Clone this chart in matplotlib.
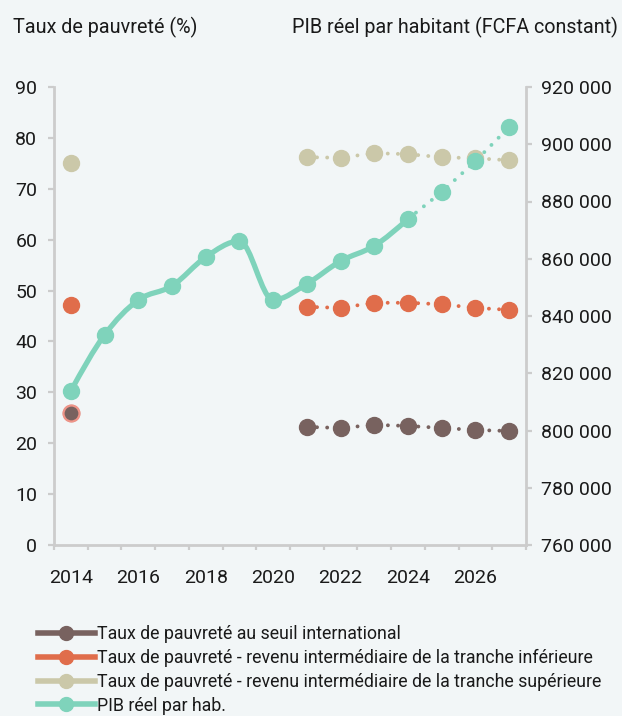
import numpy as np
import matplotlib.pyplot as plt
from matplotlib.path import Path
from matplotlib.patches import PathPatch
from matplotlib.lines import Line2D
from matplotlib.ticker import FuncFormatter, MultipleLocator, FixedLocator

plt.rcParams['font.family'] = ['Roboto', 'DejaVu Sans']

# data
years = list(range(2014, 2028))
nan = np.nan
seuil_intl = [25.9, nan, nan, nan, nan, nan, nan, 23.2, 23.0, 23.6, 23.4, 23.0, 22.6, 22.4]
tranche_inf = [47.2, nan, nan, nan, nan, nan, nan, 46.8, 46.6, 47.6, 47.6, 47.3, 46.6, 46.2]
tranche_sup = [75.0, nan, nan, nan, nan, nan, nan, 76.2, 76.1, 77.0, 76.8, 76.2, 76.0, 75.6]
pib = [813800, 833400, 845600, 850500, 860600, 866200, 845600,
       851200, 859200, 864500, 873900, 883300, 894100, 906000]
last_obs = 2024  # solid line up to here, projection afterwards

labels = ['Taux de pauvreté au seuil international',
          'Taux de pauvreté - revenu intermédiaire de la tranche inférieure',
          'Taux de pauvreté - revenu intermédiaire de la tranche supérieure',
          'PIB réel par hab.']

c_brown = '#78625f'
c_orange = '#e06d4b'
c_beige = '#cbc8a9'
c_green = '#7fd3bb'
c_grid = '#cccccc'
bg = '#f2f6f7'


def monotone_path(xs, ys):
    # smooth curve through points (monotone cubic, like d3 curveMonotoneX)
    xs = np.asarray(xs, float)
    ys = np.asarray(ys, float)
    n = len(xs)
    h = np.diff(xs)
    d = np.diff(ys) / h
    m = np.zeros(n)
    for i in range(1, n - 1):
        s0, s1 = d[i - 1], d[i]
        p = (s0 * h[i] + s1 * h[i - 1]) / (h[i - 1] + h[i])
        m[i] = (np.sign(s0) + np.sign(s1)) * min(abs(s0), abs(s1), 0.5 * abs(p))
    m[0] = (3 * d[0] - m[1]) / 2
    m[-1] = (3 * d[-1] - m[-2]) / 2
    verts = [(xs[0], ys[0])]
    codes = [Path.MOVETO]
    for i in range(n - 1):
        dx = h[i] / 3
        verts += [(xs[i] + dx, ys[i] + m[i] * dx),
                  (xs[i + 1] - dx, ys[i + 1] - m[i + 1] * dx),
                  (xs[i + 1], ys[i + 1])]
        codes += [Path.CURVE4] * 3
    return Path(verts, codes)


fig = plt.figure(figsize=(6.22, 7.16), dpi=100, facecolor=bg)
ax = fig.add_axes([54 / 622, 1 - 545 / 716, 472 / 622, 458 / 716])
ax.set_facecolor(bg)
ax2 = ax.twinx()

dots = (0, (0.01, 2.6))
ms = 11.5
for vals, col in [(seuil_intl, c_brown), (tranche_inf, c_orange), (tranche_sup, c_beige)]:
    ax.plot(years, vals, color=col, lw=2.8, linestyle=dots, dash_capstyle='round',
            marker='o', ms=ms, mec=col, zorder=3)
# the 2014 point of the international rate carries a light ring
ax.plot(years[0], seuil_intl[0], 'o', ms=ms, color=c_brown, mec='#ef9488', mew=1.6, zorder=4)

k = years.index(last_obs)
ax2.add_patch(PathPatch(monotone_path(years[:k + 1], pib[:k + 1]), fill=False,
                        ec=c_green, lw=3.8, capstyle='round', joinstyle='round', zorder=3))
ax2.plot(years[k:], pib[k:], color=c_green, lw=2.8, linestyle=dots,
         dash_capstyle='round', zorder=3)
ax2.plot(years, pib, 'o', color=c_green, ms=ms, zorder=4)

ax.set_xlim(2013.5, 2027.5)
ax.set_ylim(0, 90)
ax2.set_ylim(760000, 920000)
ax.yaxis.set_major_locator(MultipleLocator(10))
ax2.yaxis.set_major_locator(MultipleLocator(20000))
ax2.yaxis.set_major_formatter(FuncFormatter(lambda v, p: f'{int(v):,}'.replace(',', ' ')))
ax.xaxis.set_major_locator(FixedLocator(years[::2]))
ax.xaxis.set_minor_locator(FixedLocator(np.arange(2013.5, 2028, 1)))

for a in (ax, ax2):
    for s in a.spines.values():
        s.set_visible(False)
    a.tick_params(colors=c_grid, labelcolor='#1a1a1a', labelsize=14, width=1.6)
for side in ('left', 'bottom'):
    ax.spines[side].set_visible(True)
    ax.spines[side].set_color(c_grid)
    ax.spines[side].set_linewidth(2)
ax2.spines['right'].set_visible(True)
ax2.spines['right'].set_color(c_grid)
ax2.spines['right'].set_linewidth(2)

ax.tick_params(axis='y', length=4, pad=8)
ax2.tick_params(axis='y', length=4, pad=7)
ax.tick_params(axis='x', which='major', length=0, pad=17)
ax.tick_params(axis='x', which='minor', length=3.5, width=1.6, color=c_grid)

fig.text(13 / 622, 1 - 27 / 716, 'Taux de pauvreté (%)', fontsize=14.2,
         color='#1a1a1a', ha='left', va='center')
fig.text(618 / 622, 1 - 27 / 716, 'PIB réel par habitant (FCFA constant)', fontsize=14.2,
         color='#1a1a1a', ha='right', va='center')

handles = [Line2D([], [], color=c, lw=4, marker='o', ms=10)
           for c in (c_brown, c_orange, c_beige, c_green)]
fig.legend(handles, labels, loc='upper left', bbox_to_anchor=(38 / 622, 1 - 625 / 716),
           frameon=False, fontsize=12.8, handlelength=3.2, handletextpad=0.1,
           labelspacing=0.33, borderaxespad=0, borderpad=0, labelcolor='#1a1a1a')

fig.savefig('out.png', dpi=100, facecolor=bg)
